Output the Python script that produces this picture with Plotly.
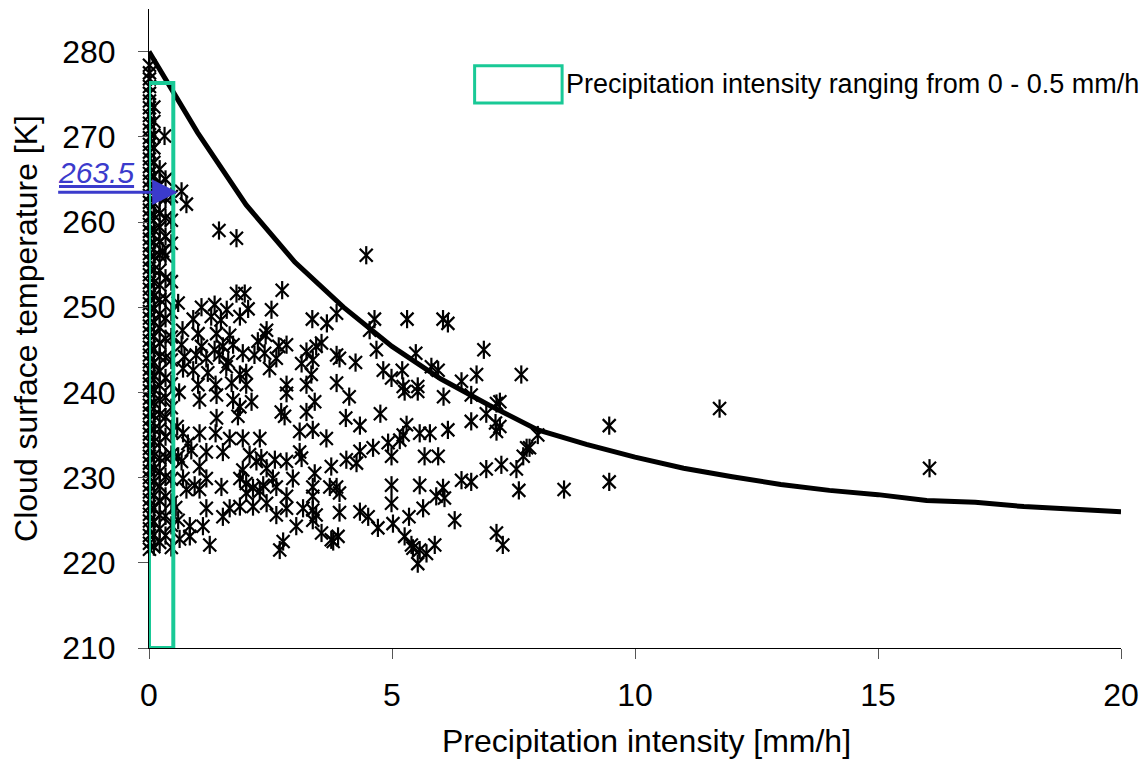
import plotly.graph_objects as go

# ---------------- data ----------------
# dense column of observations at very low intensity (0 - 0.5 mm/h)
col0_x = [0.01] * 68
col0_y = [278.4, 277.5, 276.8, 275.9, 275.1, 274.2, 273.4, 272.5, 271.6, 270.8, 269.9, 269.1,
          268.2, 267.4, 266.5, 265.7, 264.8, 264.0, 263.1, 262.3, 261.4, 260.6, 259.7, 258.9,
          258.0, 257.2, 256.3, 255.5, 254.6, 253.8, 252.9, 252.1, 251.2, 250.4, 249.5, 248.7,
          247.8, 247.0, 246.1, 245.3, 244.4, 243.6, 242.7, 241.9, 241.0, 240.2, 239.3, 238.5,
          237.6, 236.8, 235.9, 235.1, 234.2, 233.4, 232.5, 231.7, 230.8, 230.0, 229.1, 228.3,
          227.4, 226.6, 225.7, 224.9, 224.0, 223.2, 222.3, 221.6]
col1_x = [0.10] * 34
col1_y = [273.5, 271.8, 270.2, 268.7, 267.0, 265.4, 263.9, 262.2, 260.8, 259.1, 257.6, 256.0,
          254.4, 252.9, 251.3, 249.8, 248.2, 246.6, 245.1, 243.5, 242.0, 240.4, 238.8, 237.3,
          235.7, 234.2, 232.6, 231.0, 229.5, 227.9, 226.4, 224.8, 223.3, 221.9]
col2_x = [0.22] * 27
col2_y = [266.2, 264.5, 262.9, 261.0, 259.4, 257.7, 256.1, 254.3, 252.6, 250.9, 249.2, 247.6,
          245.8, 244.2, 242.5, 240.8, 239.1, 237.4, 235.7, 234.1, 232.3, 230.7, 229.0, 227.3,
          225.6, 224.0, 222.4]
col3_x = [0.34] * 19
col3_y = [265.0, 262.8, 260.5, 258.3, 256.0, 253.4, 251.0, 248.7, 246.3, 244.1, 241.7, 239.4,
          237.1, 234.8, 232.4, 230.1, 227.8, 225.5, 223.2]
col4_x = [0.46] * 14
col4_y = [263.0, 260.2, 257.5, 249.4, 246.5, 243.8, 241.0, 238.2, 235.4, 232.7, 229.8, 227.1,
          224.4, 221.8]

# scattered observations (precipitation mm/h, cloud surface temperature K)
pts_x = [0.32, 0.67, 0.77, 1.44, 1.80, 4.47, 0.28, 0.60, 0.62, 0.58, 0.60, 0.55, 0.60, 0.63,
         0.46, 1.80, 1.97, 2.74, 1.08, 1.35, 1.60, 1.87, 2.04, 2.52, 3.36, 3.66, 3.86, 0.91,
         1.28, 1.48, 2.42, 0.69, 1.01, 1.39, 1.66, 2.24, 2.40, 0.67, 1.08, 1.35, 1.52, 1.73,
         2.67, 2.83, 3.24, 3.44, 3.55, 3.86, 0.73, 0.97, 1.18, 1.45, 1.63, 1.93, 2.17, 2.38,
         2.62, 3.14, 3.37, 0.70, 0.91, 1.21, 1.59, 1.87, 2.00, 2.48, 3.34, 1.01, 1.37, 1.70,
         2.00, 2.83, 3.24, 3.86,
         1.04, 1.39, 1.73, 1.87, 2.11, 2.83, 2.72, 2.79, 3.24, 3.41, 1.39, 1.83, 0.70, 1.04,
         1.37, 1.66, 1.93, 2.28, 3.10, 3.37, 3.65, 0.80, 0.87, 1.18, 1.52, 2.07, 2.31, 3.10,
         3.14, 0.67, 1.04, 1.93, 2.21, 2.42, 2.59, 2.83, 3.41, 3.75, 0.70, 0.94, 1.18, 1.49,
         1.87, 2.00, 2.14, 2.35, 2.55, 2.62, 2.96, 3.37, 3.72, 0.77, 1.04, 2.00, 2.28, 2.83,
         3.37, 1.18, 1.52, 1.66, 1.87, 2.14, 2.42, 2.62, 2.83, 3.17, 3.37, 3.37, 3.44, 0.84,
         1.11, 0.84, 1.25, 3.03, 2.76, 2.69, 3.55, 3.75,
         4.64, 5.31, 6.05, 6.15, 4.54, 4.68, 5.49, 6.89, 3.92, 4.25, 4.82, 5.21, 4.99, 5.81,
         5.95, 6.74, 7.66, 6.43, 5.23, 5.53,
         4.12, 5.26, 5.53, 6.06, 6.63, 7.15, 6.94, 4.05, 4.76, 4.34, 5.30, 5.23, 5.57, 5.78,
         6.15, 6.63, 7.15, 7.13, 4.61, 4.92, 5.16, 4.34, 4.99, 5.67, 5.95, 4.06, 4.27, 7.77,
         7.70, 6.94, 7.25, 7.56, 6.43, 6.63, 4.99, 5.57, 6.05, 3.86, 7.61, 5.91, 6.08, 3.92,
         4.99, 5.64, 3.92, 4.34, 4.51, 5.02, 5.35, 4.71, 6.29, 5.26, 3.89, 7.15, 7.28, 5.40,
         5.57, 5.88, 5.71, 5.53, 5.43, 3.79,
         7.22, 7.22, 8.00, 7.83, 8.54, 9.47, 9.47, 11.74, 16.06]
pts_y = [270.1, 263.6, 262.1, 259.0, 258.1, 256.1, 256.6, 250.5, 240.0, 236.0, 232.5, 226.5,
         225.0, 222.8,
         253.0, 251.6, 251.6, 252.0, 250.0, 250.3, 249.7, 248.9, 249.8, 249.7, 248.6, 248.1,
         249.3, 248.6, 248.9, 248.5, 247.3, 247.3, 246.9, 246.9, 246.7, 246.0, 246.7, 245.6,
         245.4, 245.0, 245.4, 245.6, 245.4, 245.6, 244.8, 245.4, 245.8, 244.4, 244.2, 244.4,
         244.0, 244.4, 243.6, 244.6, 244.4, 244.6, 244.0, 243.4, 243.8, 242.8, 242.6, 242.3,
         243.0, 242.1, 242.3, 242.8, 242.1, 240.9, 240.9, 241.1, 240.9, 240.9, 240.9, 241.1,
         239.1, 239.7, 239.1, 238.3, 238.9, 239.9, 237.7, 237.2, 237.7, 238.9, 237.0, 237.2,
         235.2, 235.2, 235.2, 234.6, 234.6, 234.6, 235.4, 235.6, 234.6, 234.0, 233.2, 233.0,
         233.0, 232.7, 232.3, 233.0, 232.3, 231.9, 231.3, 230.9, 231.9, 231.1, 232.1, 231.9,
         230.5, 231.3, 229.9, 229.1, 229.9, 228.9, 229.9, 229.3, 228.8, 229.1, 229.9, 228.9,
         229.9, 228.9, 228.9, 228.6, 228.6, 228.2, 228.4, 227.8, 227.8, 226.4, 225.4, 226.4,
         226.6, 226.6, 227.0, 225.6, 226.4, 226.4, 226.2, 225.0, 225.6, 224.3, 224.3, 223.1,
         222.1, 224.3, 222.5, 221.5, 223.5, 222.7,
         248.6, 248.6, 248.6, 248.1, 247.3, 245.0, 244.6, 245.0, 244.0, 243.5, 242.6, 242.6,
         241.7, 243.0, 242.6, 242.1, 242.1, 241.3, 240.7, 240.7,
         239.5, 240.1, 240.1, 239.5, 239.7, 238.7, 237.5, 237.0, 237.5, 236.1, 236.2, 235.0,
         235.2, 235.2, 235.6, 236.6, 235.4, 236.4, 233.5, 234.1, 234.4, 233.1, 232.5, 232.5,
         232.5, 232.1, 231.7, 233.5, 232.5, 231.0, 231.5, 231.0, 229.7, 229.5, 229.1, 229.1,
         228.8, 228.9, 228.5, 227.8, 227.6, 228.2, 227.0, 226.4, 225.9, 226.0, 225.4, 224.6,
         225.4, 224.1, 225.0, 223.1, 223.1, 223.5, 222.1, 222.1, 221.5, 222.1, 221.1, 219.9,
         221.7, 222.5,
         238.9, 236.0, 235.0, 233.5, 228.6, 236.1, 229.5, 238.1, 231.1]

# upper envelope curve
curve_x = [0, 1, 2, 3, 4, 5, 6, 7, 8, 9, 10, 11, 12, 13, 14, 15, 16, 17, 18, 19, 20]
curve_y = [280.0, 270.5, 262.0, 255.3, 250.0, 245.4, 241.6, 238.5, 235.6, 233.9, 232.4,
           231.1, 230.1, 229.2, 228.5, 228.0, 227.3, 227.1, 226.6, 226.3, 226.0]

# highlighted range and marked value
rect_x = [0.0, 0.5]
rect_y = [210.0, 276.3]
marked_value = 263.5
marked_x = 0.59
arrow_start_x = -1.9

x_ticks = [0, 5, 10, 15, 20]
y_ticks = [210, 220, 230, 240, 250, 260, 270, 280]
legend_text = "Precipitation intensity ranging from 0 - 0.5 mm/h"
x_title = "Precipitation intensity [mm/h]"
y_title = "Cloud surface temperature [K]"

all_x = col0_x + col1_x + col2_x + col3_x + col4_x + pts_x
all_y = col0_y + col1_y + col2_y + col3_y + col4_y + pts_y

FONT = "Liberation Sans, Arial, sans-serif"
GREEN = "#19C996"
BLUE = "#3B3BCC"

fig = go.Figure()
for sym in ["x-thin-open", "line-ns-open"]:
    fig.add_trace(go.Scatter(
        x=all_x, y=all_y, mode="markers", cliponaxis=False, showlegend=False,
        marker=dict(symbol=sym, size=13, color="black",
                    line=dict(color="black", width=2.2)),
    ))
fig.add_trace(go.Scatter(
    x=curve_x, y=curve_y, mode="lines", showlegend=False, cliponaxis=False,
    line=dict(color="black", width=5),
))

# green rectangle (range 0 - 0.5 mm/h)
fig.add_shape(type="rect", xref="x", yref="y",
              x0=rect_x[0], x1=rect_x[1], y0=rect_y[0], y1=rect_y[1],
              line=dict(color=GREEN, width=4), fillcolor="rgba(0,0,0,0)", layer="above")

# legend-like key
fig.add_shape(type="rect", xref="paper", yref="paper",
              x0=0.335, x1=0.425, y0=0.853, y1=0.911,
              line=dict(color=GREEN, width=3), fillcolor="white", layer="above")
fig.add_annotation(xref="paper", yref="paper", x=0.427, y=0.882,
                   xanchor="left", yanchor="middle", showarrow=False,
                   text=legend_text, font=dict(family=FONT, size=27, color="black"))

# marked value arrow + label
fig.add_annotation(xref="x", yref="y", axref="x", ayref="y",
                   x=marked_x, y=marked_value, ax=arrow_start_x, ay=marked_value,
                   text="", showarrow=True, arrowhead=2, arrowsize=1.7,
                   arrowwidth=3, arrowcolor=BLUE)
fig.add_annotation(xref="paper", yref="paper", x=-0.055, y=0.744,
                   xanchor="center", yanchor="middle", showarrow=False,
                   text="<i><u>%s</u></i>" % marked_value,
                   font=dict(family=FONT, size=30, color=BLUE))

# x-axis title (placed slightly right of the plot centre, as in the original)
fig.add_annotation(xref="paper", yref="paper", x=0.512, y=-0.176,
                   xanchor="center", yanchor="bottom", showarrow=False, borderpad=0,
                   text=x_title, font=dict(family=FONT, size=32, color="black"))

# note: the page body adds an 8 px offset, size and margins compensate for it
fig.update_layout(
    width=1131, height=755,
    margin=dict(l=141, r=18, t=1, b=115, autoexpand=False),
    paper_bgcolor="white", plot_bgcolor="white",
    font=dict(family=FONT, color="black"),
    xaxis=dict(range=[0, 20], tickvals=x_ticks, showgrid=False, zeroline=False,
               showline=True, linecolor="black", linewidth=1, automargin=False,
               ticks="outside", ticklen=10, tickcolor="#555", tickwidth=1,
               tickfont=dict(family=FONT, size=32), ticklabelstandoff=9),
    yaxis=dict(range=[210, 285], tickvals=y_ticks, showgrid=False, zeroline=False,
               showline=True, linecolor="black", linewidth=1, automargin=False,
               ticks="outside", ticklen=10, tickcolor="#555", tickwidth=1,
               tickfont=dict(family=FONT, size=32), ticklabelstandoff=16,
               title=dict(text=y_title, standoff=16,
                          font=dict(family=FONT, size=32))),
)

fig.write_html("out.html")
